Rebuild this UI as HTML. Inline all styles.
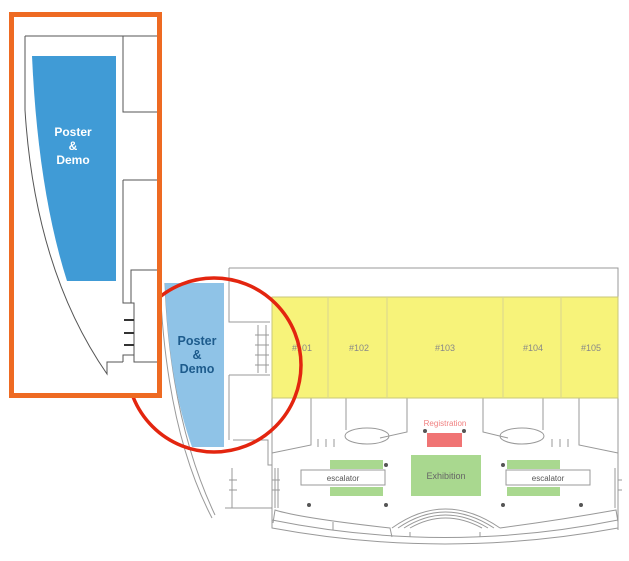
<!DOCTYPE html>
<html><head><style>
html,body{margin:0;padding:0;background:#fff;}
svg{display:block;}
text{font-family:"Liberation Sans",sans-serif;}
</style></head><body>
<svg width="629" height="561" viewBox="0 0 629 561" xmlns="http://www.w3.org/2000/svg">
<g fill="none" stroke="#999" stroke-width="1">
  <path d="M229 268 H618 V530"/>
  <path d="M229 268 V322 H270 M229 375 H270 M229 375 V440"/>
  <path d="M165 283 Q170 420 215 515"/>
  <path d="M160 283 Q166 430 212 518"/>
  <path d="M233 440 H268 V465 H272"/>
  <path d="M272 398 V528 Q445 560 618 528"/>
  <path d="M272 520 Q445 555 618 520"/>
  <path d="M225 508 H272"/>
  <path d="M311 398 V445 L272 453"/>
  <path d="M346 398 V430 M407 398 V432 L380 438"/>
  <ellipse cx="367" cy="436" rx="22" ry="8"/>
  <ellipse cx="522" cy="436" rx="22" ry="8"/>
  <path d="M483 398 V432 L508 438 M543 398 V430 M579 398 V445 L618 453"/>
  <path d="M318 447 v-8 M326 447 v-8 M334 447 v-8 M552 447 v-8 M560 447 v-8 M568 447 v-8"/>
  <path d="M273 523 L275 510 Q300 518 390 528 L392 537 M333 522 L333 530 M410 532 V537 M480 532 V537"/>
  <path d="M392 528 Q445 490 500 528 M398 528 Q445 496 494 528 M404 528 Q445 502 488 528 M410 528 Q445 508 482 528"/>
  <path d="M500 528 Q560 520 616 510 L618 522"/>
  <path d="M258 325 v48 M266 325 v48 M255 335 h14 M255 345 h14 M255 355 h14 M255 365 h14"/>
  <path d="M232 468 v40 M275 468 v40 M278 468 v40 M229 480 h8 M229 490 h8 M272 480 h8 M272 490 h8 M615 468 v40 M618 480 h4 M618 490 h4"/>
</g>
<rect x="272" y="297" width="346" height="101" fill="#f7f37a" stroke="#c9c77a" stroke-width="1"/>
<g stroke="#d9d690" stroke-width="1"><line x1="328" y1="297" x2="328" y2="398"/><line x1="387" y1="297" x2="387" y2="398"/><line x1="503" y1="297" x2="503" y2="398"/><line x1="561" y1="297" x2="561" y2="398"/></g>
<g font-size="9" fill="#888" text-anchor="middle">
<text x="302" y="351">#101</text><text x="359" y="351">#102</text><text x="445" y="351">#103</text><text x="533" y="351">#104</text><text x="591" y="351">#105</text>
</g>
<path d="M165 283 H224 V447 H192 Q168 380 165 283 Z" fill="#8fc3e7"/>
<text x="197" y="345" font-size="12.5" font-weight="bold" fill="#1d5b8c" text-anchor="middle">Poster</text>
<text x="197" y="359" font-size="12.5" font-weight="bold" fill="#1d5b8c" text-anchor="middle">&amp;</text>
<text x="197" y="373" font-size="12.5" font-weight="bold" fill="#1d5b8c" text-anchor="middle">Demo</text>
<text x="445" y="426" font-size="8" fill="#f08080" text-anchor="middle">Registration</text>
<rect x="427" y="433" width="35" height="14" fill="#f07474"/>
<g fill="#555"><circle cx="425" cy="431" r="2"/><circle cx="464" cy="431" r="2"/><circle cx="386" cy="465" r="2"/><circle cx="503" cy="465" r="2"/><circle cx="309" cy="505" r="2"/><circle cx="386" cy="505" r="2"/><circle cx="503" cy="505" r="2"/><circle cx="581" cy="505" r="2"/></g>
<rect x="411" y="455" width="70" height="41" fill="#a9d88f"/>
<text x="446" y="479" font-size="9" fill="#666" text-anchor="middle">Exhibition</text>
<rect x="330" y="460" width="53" height="9" fill="#a9d88f"/><rect x="330" y="487" width="53" height="9" fill="#a9d88f"/>
<rect x="507" y="460" width="53" height="9" fill="#a9d88f"/><rect x="507" y="487" width="53" height="9" fill="#a9d88f"/>
<rect x="301" y="470" width="84" height="15" fill="#fff" stroke="#999"/>
<rect x="506" y="470" width="84" height="15" fill="#fff" stroke="#999"/>
<text x="343" y="481" font-size="8" fill="#555" text-anchor="middle">escalator</text>
<text x="548" y="481" font-size="8" fill="#555" text-anchor="middle">escalator</text>
<circle cx="214" cy="365" r="87" fill="none" stroke="#e3250f" stroke-width="3.5"/>
<rect x="11.5" y="14.5" width="148" height="381" fill="#fff" stroke="#ee6a22" stroke-width="5"/>
<g fill="none" stroke="#555" stroke-width="1">
  <path d="M25 36 H157 M25 36 V110 Q35 270 107 374 L107 362 H123 M123 362 V355 H134 V362 H157"/>
  <path d="M123 36 V112 H157 M123 180 H157 M123 180 V303 H131 V270 H157 M131 303 H134 V355"/>
</g>
<g stroke="#333" stroke-width="2"><line x1="124" y1="320" x2="134" y2="320"/><line x1="124" y1="333" x2="134" y2="333"/><line x1="124" y1="345" x2="134" y2="345"/></g>
<path d="M32 56 H116 V281 H67 Q38 190 32 56 Z" fill="#409bd6"/>
<text x="73" y="136" font-size="12" font-weight="bold" fill="#fff" text-anchor="middle">Poster</text>
<text x="73" y="150" font-size="12" font-weight="bold" fill="#fff" text-anchor="middle">&amp;</text>
<text x="73" y="164" font-size="12" font-weight="bold" fill="#fff" text-anchor="middle">Demo</text>
</svg>
</body></html>
